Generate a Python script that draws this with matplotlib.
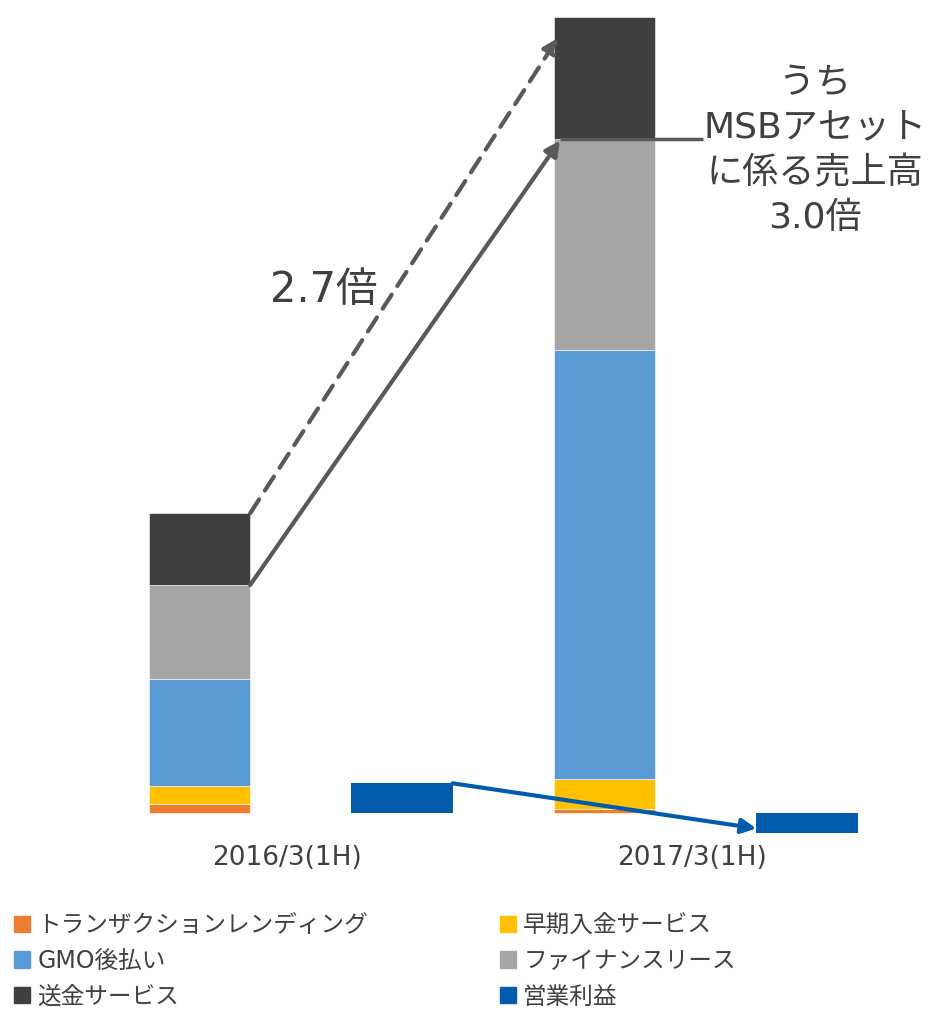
import numpy as np
import matplotlib
matplotlib.use('Agg')
import matplotlib.pyplot as plt
from matplotlib.patches import Patch

plt.rcParams['font.family'] = ['DejaVu Sans', 'Noto Sans CJK JP']

periods = ['2016/3(1H)', '2017/3(1H)']
segments = ['トランザクションレンディング', '早期入金サービス', 'GMO後払い', 'ファイナンスリース', '送金サービス']
seg_colors = ['#ED7D31', '#FFC000', '#5B9BD5', '#A5A5A5', '#3F3F3F']
lending = [0.90, 0.47]
early_pay = [1.83, 2.93]
gmo_atobarai = [10.70, 42.97]
finance_lease = [9.40, 21.10]
remittance = [7.17, 12.16]
op_profit = [3.00, -1.94]
op_label = '営業利益'
op_color = '#005BAC'

ratio_total = '2.7倍'
ratio_msb = 'うち\nMSBアセット\nに係る売上高\n3.0倍'

fig = plt.figure(figsize=(9.32, 10.09), dpi=100)
ax = fig.add_axes([0, 0, 1, 1])
ax.set_xlim(-199.5 / 405, (932 - 199.5) / 405)
ax.set_ylim(-19.57, 81.33)
ax.axis('off')

x = np.arange(len(periods))
w = 0.25
series = [lending, early_pay, gmo_atobarai, finance_lease, remittance]
bottom = np.zeros(len(periods))
for vals, name, col in zip(series, segments, seg_colors):
    ax.bar(x, vals, w, bottom=bottom, color=col, label=name,
           edgecolor='white', linewidth=0.4)
    bottom += np.array(vals)
totals = bottom
gray_top = totals - np.array(remittance)

ax.bar(x + 0.5, op_profit, w, color=op_color, label=op_label)

# period labels
for xi, lab in zip(x, periods):
    ax.text(xi + 0.215, -4.5, lab, ha='center', va='center', fontsize=19, color='#404040')

arrow_c = '#595959'
# dashed arrow: total sales
ax.annotate('', xy=(1 - w / 2 + 0.01, totals[1] - 2.1), xytext=(w / 2, totals[0]),
            arrowprops=dict(arrowstyle='-|>', color=arrow_c, lw=3, linestyle=(0, (4, 2.5)),
                            mutation_scale=22, shrinkA=0, shrinkB=0))
# solid arrow: MSB asset
ax.annotate('', xy=(1 - w / 2 + 0.015, gray_top[1] - 0.2), xytext=(w / 2, gray_top[0]),
            arrowprops=dict(arrowstyle='-|>', color=arrow_c, lw=3,
                            mutation_scale=22, shrinkA=0, shrinkB=0))
# connector line to callout
ax.plot([1 - w / 2 + 0.015, 1.243], [gray_top[1], gray_top[1]], color=arrow_c, lw=2.5,
        solid_capstyle='butt')
# operating profit arrow
ax.annotate('', xy=(1.5 - w / 2, op_profit[1] * 0.78), xytext=(0.5 + w / 2, op_profit[0]),
            arrowprops=dict(arrowstyle='-|>', color=op_color, lw=3,
                            mutation_scale=22, shrinkA=0, shrinkB=0))

ax.text(0.307, 52.3, ratio_total, ha='center', va='center', fontsize=30, color='#404040')
ax.text(1.52, 66.3, ratio_msb, ha='center', va='center', fontsize=26, color='#404040',
        linespacing=1.41)

# legend, two columns filled row by row
leg_h = [Patch(color=c) for c in seg_colors] + [Patch(color=op_color)]
leg_l = segments + [op_label]
col1 = [0, 2, 4]
col2 = [1, 3, 5]
for cols, left in ((col1, 14), (col2, 500)):
    fig.legend([leg_h[i] for i in cols], [leg_l[i] for i in cols], loc='upper left',
               bbox_to_anchor=(left / 932, 1 - 913 / 1009), frameon=False, fontsize=17,
               handlelength=0.68, handleheight=0.68, handletextpad=0.3, labelspacing=0.5,
               borderpad=0, borderaxespad=0, labelcolor='#404040')

fig.savefig('out.png', dpi=100)
